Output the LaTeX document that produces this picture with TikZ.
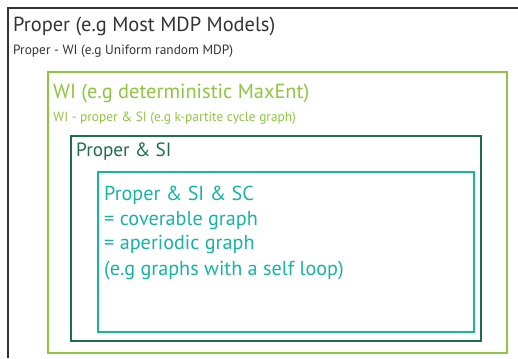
\documentclass[tikz,border=0pt]{standalone}
\usepackage{fontspec}
\setmainfont{PT Sans}
\definecolor{outerc}{HTML}{333333}
\definecolor{wic}{HTML}{8DC63F}
\definecolor{sic}{HTML}{1E7048}
\definecolor{scc}{HTML}{17B3A3}
\tikzset{
  boxline/.style={line width=2pt},
  bigtxt/.style={anchor=base west, inner sep=0pt, font=\fontsize{20.4}{24}\selectfont},
  sctxt/.style={anchor=base west, inner sep=0pt, font=\fontsize{20.2}{24}\selectfont},
  sitxt/.style={anchor=base west, inner sep=0pt, font=\fontsize{19.2}{24}\selectfont},
  smalltxt/.style={anchor=base west, inner sep=0pt, font=\fontsize{13.4}{16}\selectfont},
}
\begin{document}
\begin{tikzpicture}[x=1pt,y=-1pt]
\useasboundingbox (0,0) rectangle (518,358);
% outer box (cut off at right and bottom)
\draw[boxline, outerc] (518,8) -- (8,8) -- (8,358);
% WI box
\draw[boxline, wic] (48,72) rectangle (507,353);
% Proper & SI box
\draw[boxline, sic] (71,136) rectangle (481,341);
% Proper & SI & SC box
\draw[boxline, scc] (98,172) rectangle (474,332);
% texts
\node[bigtxt, text=outerc] (t1) at (13,32) {Proper (e.g Most MDP Models)};
\node[smalltxt, text=outerc] (t2) at (13,54.5) {Proper - WI (e.g Uniform random MDP)};
\node[bigtxt, text=wic] (t3) at (53,99) {WI (e.g deterministic MaxEnt)};
\node[smalltxt, text=wic] (t4) at (53,122) {WI - proper \& SI (e.g k-partite cycle graph)};
\node[sitxt, text=sic] (t5) at (76,156.5) {Proper \& SI};
\node[sctxt, text=scc] (t6) at (104,200) {Proper \& SI \& SC};
\node[sctxt, text=scc] (t7) at (104,225) {= coverable graph};
\node[sctxt, text=scc] (t8) at (104,249.5) {= aperiodic graph};
\node[sctxt, text=scc] (t9) at (104,275) {(e.g graphs with a self loop)};
\end{tikzpicture}
\end{document}
